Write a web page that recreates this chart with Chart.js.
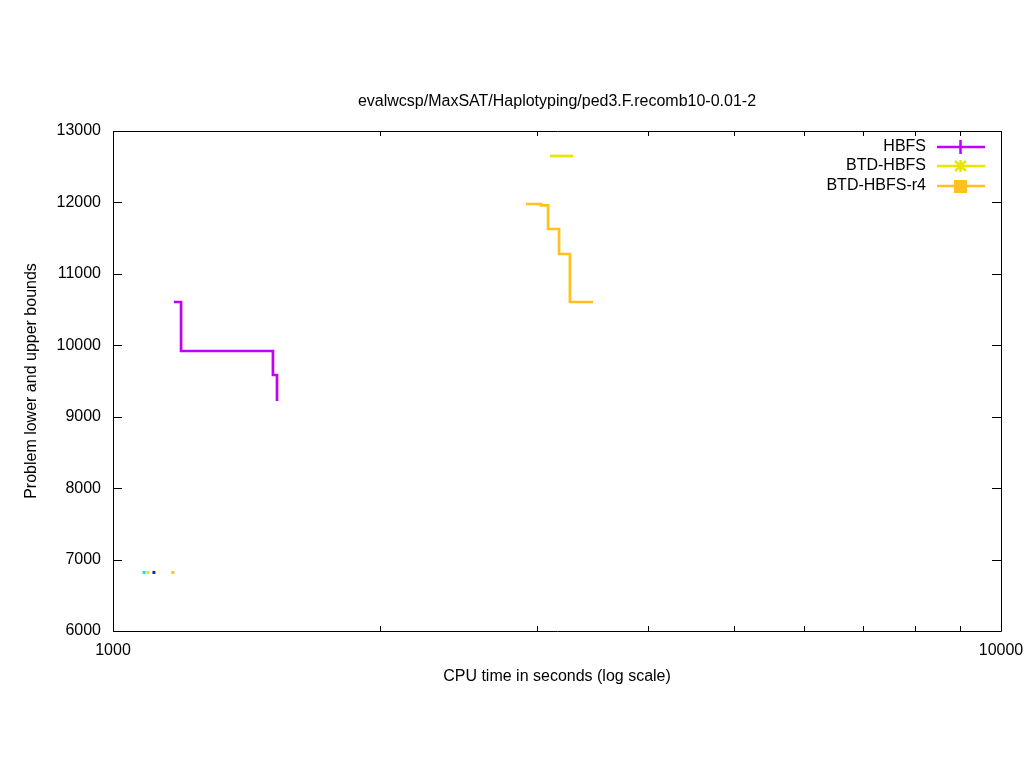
<!DOCTYPE html>
<html>
<head>
<meta charset="utf-8">
<script src="https://cdn.jsdelivr.net/npm/chart.js@4/dist/chart.umd.min.js"></script>
<style>
html,body{margin:0;padding:0;background:#fff;}
#wrap{width:1024px;height:768px;position:relative;}
</style>
</head>
<body>
<div id="wrap"><canvas id="c" width="1024" height="768"></canvas></div>
<script>
const chartTitle = "evalwcsp/MaxSAT/Haplotyping/ped3.F.recomb10-0.01-2";
const xLabel = "CPU time in seconds (log scale)";
const yLabel = "Problem lower and upper bounds";
const seriesNames = ["HBFS", "BTD-HBFS", "BTD-HBFS-r4"];
const seriesColors = ["#c000ff", "#e6e600", "#ffc020"];

const hbfsX = [1171, 1193, 1514, 1530];
const hbfsY = [10606, 9920, 9584, 9220];
const btdX = [3105, 3297];
const btdY = [12650, 12650];
const r4X = [2918, 3034, 3090, 3179, 3270, 3472];
const r4Y = [11978, 11960, 11628, 11278, 10606, 10606];

const lbX = [1084, 1095, 1112, 1168];
const lbY = [6820, 6820, 6820, 6820];
const lbColors = ["#00e8e8", "#e6e600", "#2020b0", "#ffc020"];

const yTicks = [6000, 7000, 8000, 9000, 10000, 11000, 12000, 13000];
const xMajor = [1000, 10000];
const xMinor = [2000, 3000, 4000, 5000, 6000, 7000, 8000, 9000];

const FONT = "Liberation Sans, Arial, sans-serif";
const FS = 16;

function pts(xs, ys){ return xs.map((x,i)=>({x:x, y:ys[i]})); }

const framePlugin = {
  id: 'frame',
  afterDraw(chart){
    const {ctx, chartArea:a, scales} = chart;
    ctx.save();
    ctx.strokeStyle = '#000';
    ctx.lineWidth = 1;
    ctx.beginPath();
    ctx.rect(Math.round(a.left)+0.5, Math.round(a.top)+0.5, Math.round(a.right-a.left), Math.round(a.bottom-a.top));
    ctx.stroke();
    ctx.beginPath();
    yTicks.forEach(v=>{
      const y = Math.round(scales.y.getPixelForValue(v))+0.5;
      ctx.moveTo(a.left, y); ctx.lineTo(a.left+9, y);
      ctx.moveTo(a.right, y); ctx.lineTo(a.right-9, y);
    });
    xMajor.forEach(v=>{
      const x = Math.round(scales.x.getPixelForValue(v))+0.5;
      ctx.moveTo(x, a.bottom); ctx.lineTo(x, a.bottom-9);
      ctx.moveTo(x, a.top); ctx.lineTo(x, a.top+9);
    });
    xMinor.forEach(v=>{
      const x = Math.round(scales.x.getPixelForValue(v))+0.5;
      ctx.moveTo(x, a.bottom); ctx.lineTo(x, a.bottom-5);
      ctx.moveTo(x, a.top); ctx.lineTo(x, a.top+5);
    });
    ctx.stroke();
    // title
    ctx.fillStyle = '#000';
    ctx.font = FS + 'px ' + FONT;
    ctx.textAlign = 'center';
    ctx.textBaseline = 'middle';
    ctx.fillText(chartTitle, (a.left+a.right)/2, 102);
    // legend
    ctx.textAlign = 'right';
    const ly = [147, 166, 186];
    seriesNames.forEach((n,i)=>{
      ctx.fillStyle = '#000';
      ctx.fillText(n, 926, ly[i]);
      ctx.strokeStyle = seriesColors[i];
      ctx.lineWidth = 2.5;
      ctx.beginPath();
      ctx.moveTo(937, ly[i]); ctx.lineTo(985, ly[i]);
      ctx.stroke();
      ctx.fillStyle = seriesColors[i];
      if (i===0){
        ctx.beginPath(); ctx.moveTo(960.5, ly[i]-7); ctx.lineTo(960.5, ly[i]+7); ctx.stroke();
      } else if (i===1){
        ctx.beginPath();
        ctx.moveTo(960.5, ly[i]-6); ctx.lineTo(960.5, ly[i]+6);
        ctx.moveTo(955, ly[i]-5); ctx.lineTo(966, ly[i]+5);
        ctx.moveTo(955, ly[i]+5); ctx.lineTo(966, ly[i]-5);
        ctx.stroke();
      } else {
        ctx.fillRect(954, ly[i]-6, 13, 13);
      }
    });
    ctx.restore();
  }
};

const lineDs = (label, xs, ys, color) => ({
  label, data: pts(xs, ys), borderColor: color, backgroundColor: color,
  borderWidth: 2.7, stepped: 'before', pointRadius: 0, showLine: true, fill: false
});

new Chart(document.getElementById('c'), {
  type: 'scatter',
  data: {
    datasets: [
      lineDs(seriesNames[0], hbfsX, hbfsY, seriesColors[0]),
      lineDs(seriesNames[1], btdX, btdY, seriesColors[1]),
      lineDs(seriesNames[2], r4X, r4Y, seriesColors[2]),
      {
        label: 'lower', data: pts(lbX, lbY), showLine: false,
        pointStyle: 'rect', pointRadius: 2.12, borderWidth: 0,
        backgroundColor: lbColors, pointBackgroundColor: lbColors, borderColor: lbColors
      }
    ]
  },
  options: {
    responsive: false, animation: false,
    layout: { padding: { top: 131, right: 23, left: 22, bottom: 82 } },
    plugins: { legend: { display: false }, title: { display: false }, tooltip: { enabled: false } },
    scales: {
      x: {
        type: 'logarithmic', min: 1000, max: 10000,
        afterBuildTicks(s){ s.ticks = xMajor.map(v=>({value:v})); },
        afterFit(s){ s.height = 55; s.paddingLeft = 0; s.paddingRight = 0; },
        grid: { display: false, drawTicks: false },
        border: { display: false },
        ticks: { color: '#000', font: { family: FONT, size: FS }, padding: 10, maxRotation: 0,
          callback: v => String(v) },
        title: { display: true, text: xLabel, color: '#000', font: { family: FONT, size: FS }, padding: { top: 0, bottom: 0 } }
      },
      y: {
        type: 'linear', min: 6000, max: 13000,
        afterBuildTicks(s){ s.ticks = yTicks.map(v=>({value:v})); },
        afterFit(s){ s.width = 91; s.paddingTop = 0; s.paddingBottom = 0; },
        grid: { display: false, drawTicks: false },
        border: { display: false },
        ticks: { color: '#000', font: { family: FONT, size: FS }, padding: 12, callback: v => String(v) },
        title: { display: true, text: yLabel, color: '#000', font: { family: FONT, size: FS }, padding: { top: 0, bottom: 0 } }
      }
    }
  },
  plugins: [framePlugin]
});
</script>
</body>
</html>
